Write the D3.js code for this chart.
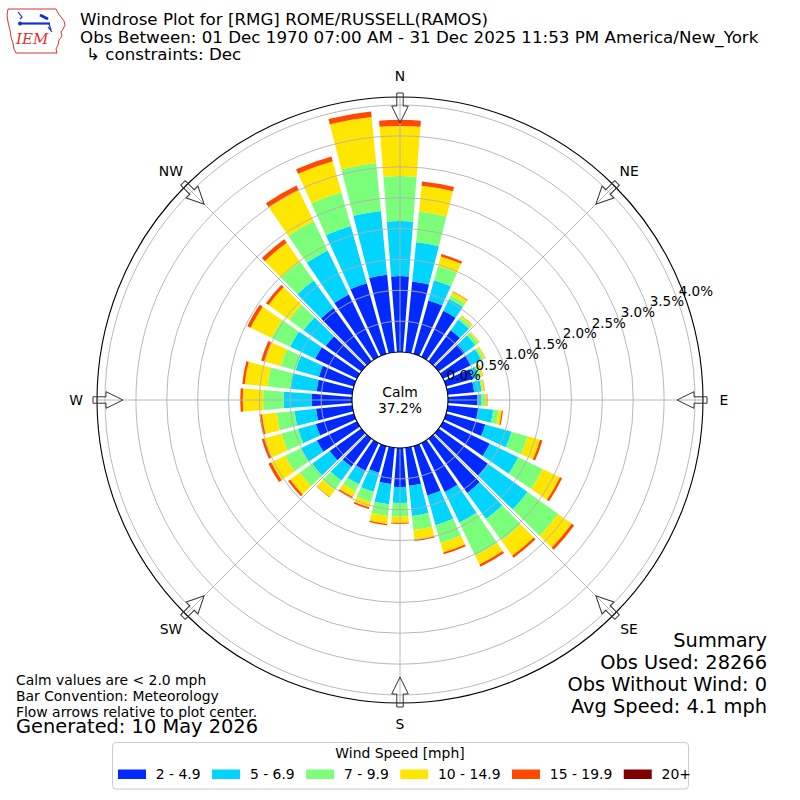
<!DOCTYPE html>
<html>
<head>
<meta charset="utf-8">
<script src="https://cdn.jsdelivr.net/npm/d3@7/dist/d3.min.js"></script>
<style>
  html, body { margin: 0; padding: 0; background: #fff; }
  svg { display: block; }
  text { font-family: "DejaVu Sans", sans-serif; fill: #000; }
</style>
</head>
<body>
<svg id="chart" width="800" height="800"></svg>
<script>
// ---------------- DATA ----------------
const directions = [0,10,20,30,40,50,60,70,80,90,100,110,120,130,140,150,160,170,
                    180,190,200,210,220,230,240,250,260,270,280,290,300,310,320,330,340,350];
const speedBins = ["2 - 4.9", "5 - 6.9", "7 - 9.9", "10 - 14.9", "15 - 19.9", "20+"];
// frequency (%) per direction for each speed bin
const speed2to5   = [1.23,1.15,0.90,0.83,0.62,0.52,0.51,0.45,0.43,0.48,0.50,0.66,0.84,0.98,1.08,0.88,0.83,0.62,
                     0.63,0.59,0.45,0.51,0.56,0.63,0.72,0.64,0.59,0.65,0.58,0.59,0.75,0.71,1.06,1.12,1.19,1.26];
const speed5to7   = [0.89,0.64,0.34,0.21,0.21,0.21,0.18,0.10,0.12,0.06,0.24,0.44,0.51,0.79,0.52,0.55,0.50,0.49,
                     0.26,0.33,0.32,0.23,0.28,0.35,0.29,0.30,0.35,0.46,0.43,0.39,0.45,0.44,0.55,0.79,0.96,1.04];
const speed7to10  = [0.73,0.50,0.24,0.07,0.05,0.06,0.04,0.04,0.02,0.06,0.09,0.27,0.44,0.61,0.43,0.59,0.30,0.23,
                     0.22,0.19,0.17,0.13,0.18,0.25,0.28,0.28,0.29,0.33,0.37,0.25,0.33,0.29,0.38,0.53,0.57,0.78];
const speed10to15 = [0.81,0.42,0.16,0.06,0.03,0.02,0.03,0.03,0.03,0.03,0.05,0.21,0.31,0.27,0.30,0.16,0.16,0.16,
                     0.10,0.13,0.09,0.10,0.14,0.19,0.25,0.29,0.24,0.33,0.37,0.28,0.38,0.41,0.37,0.56,0.52,0.75];
const speed15to20 = [0.10,0.07,0.04,0.01,0.005,0.005,0.005,0.005,0.005,0.01,0.02,0.04,0.04,0.05,0.04,0.04,0.03,0.02,
                     0.02,0.02,0.03,0.02,0.01,0.04,0.05,0.04,0.04,0.04,0.04,0.05,0.06,0.05,0.07,0.08,0.08,0.09];
const speed20plus = [0,0,0,0,0,0,0,0,0,0,0,0,0,0,0,0,0,0,
                     0,0,0,0,0,0,0,0,0,0,0,0,0,0,0,0,0,0];
const radialTicks = [0.0,0.5,1.0,1.5,2.0,2.5,3.0,3.5,4.0];
const compassLabels = ["N","NE","E","SE","S","SW","W","NW"];
const compassAngles = [0,45,90,135,180,225,270,315];
const calmPct = "37.2%";
const titleLines = ["Windrose Plot for [RMG] ROME/RUSSELL(RAMOS)",
                    "Obs Between: 01 Dec 1970 07:00 AM - 31 Dec 2025 11:53 PM America/New_York",
                    "\u21b3 constraints: Dec"];
const footLines = ["Calm values are < 2.0 mph", "Bar Convention: Meteorology", "Flow arrows relative to plot center."];
const generated = "Generated: 10 May 2026";
const summaryLines = ["Summary", "Obs Used: 28266", "Obs Without Wind: 0", "Avg Speed: 4.1 mph"];

// ---------------- SETUP ----------------
const svg = d3.select("#chart");
const cx = 400, cy = 400;
const calmR = 48, outerR = 303;
const colors = ["#002aff", "#00d4ff", "#7bff7b", "#ffe600", "#ff4800", "#800000"];
const rScale = d3.scaleLinear().domain([0, 4.13]).range([calmR, outerR]);
const deg = Math.PI / 180;

const series = [speed2to5, speed5to7, speed7to10, speed10to15, speed15to20, speed20plus];
const table = directions.map((d, i) => {
  const o = { dir: d };
  speedBins.forEach((b, j) => o[b] = series[j][i]);
  return o;
});
const stacked = d3.stack().keys(speedBins)(table);

const g = svg.append("g").attr("transform", `translate(${cx},${cy})`);

// bars
const halfW = 4.4 * deg;
const arc = d3.arc()
  .innerRadius(d => rScale(d[0]))
  .outerRadius(d => rScale(d[1]))
  .startAngle(d => d.data.dir * deg - halfW)
  .endAngle(d => d.data.dir * deg + halfW)
  .padRadius(100)
  .padAngle(0.012);

stacked.forEach((layer, j) => {
  g.append("g").selectAll("path")
    .data(layer.filter(d => d[1] - d[0] > 0))
    .join("path")
    .attr("d", arc)
    .attr("fill", colors[j]);
});

// grid circles
g.append("g").selectAll("circle")
  .data(radialTicks.filter(t => t > 0))
  .join("circle")
  .attr("r", d => rScale(d))
  .attr("fill", "none")
  .attr("stroke", "#b0b0b0")
  .attr("stroke-width", 0.9);

// radial grid lines
g.append("g").selectAll("line")
  .data(compassAngles)
  .join("line")
  .attr("x1", 0).attr("y1", 0)
  .attr("x2", d => outerR * Math.sin(d * deg))
  .attr("y2", d => -outerR * Math.cos(d * deg))
  .attr("stroke", "#b0b0b0")
  .attr("stroke-width", 0.9);

// outer circle
g.append("circle").attr("r", outerR).attr("fill", "none").attr("stroke", "#000").attr("stroke-width", 1.1);

// calm circle
g.append("circle").attr("r", calmR).attr("fill", "#fff").attr("stroke", "#000").attr("stroke-width", 1.1);
g.append("text").attr("x", 0).attr("y", -8).attr("text-anchor", "middle")
  .attr("dominant-baseline", "central").style("font-size", "13.9px").text("Calm");
g.append("text").attr("x", 0).attr("y", 8).attr("text-anchor", "middle")
  .attr("dominant-baseline", "central").style("font-size", "13.9px").text(calmPct);

// arrows
g.append("g").selectAll("path")
  .data(compassAngles)
  .join("path")
  .attr("transform", d => `rotate(${d})`)
  .attr("d", "M-3.2,-307 L-3.2,-294 L-8.3,-294 L0,-277 L8.3,-294 L3.2,-294 L3.2,-307 Z")
  .attr("fill", "none")
  .attr("stroke", "#333")
  .attr("stroke-width", 1);

// compass labels
g.append("g").selectAll("text")
  .data(compassAngles)
  .join("text")
  .attr("x", d => 324 * Math.sin(d * deg))
  .attr("y", d => -324 * Math.cos(d * deg))
  .attr("text-anchor", "middle")
  .attr("dominant-baseline", "central")
  .style("font-size", "13.9px")
  .text((d, i) => compassLabels[i]);

// radial tick labels
const la = 20 * deg;
g.append("g").selectAll("text")
  .data(radialTicks)
  .join("text")
  .attr("x", d => rScale(d) * Math.cos(la) + 1.5)
  .attr("y", d => -rScale(d) * Math.sin(la) - 3.3)
  .attr("text-anchor", "start")
  .style("font-size", "13.5px")
  .text(d => d.toFixed(1) + "%");

// ---------------- TITLE ----------------
const titleY = [25, 43, 60];
titleLines.forEach((t, i) => {
  svg.append("text").attr("x", i === 2 ? 86 : 80).attr("y", titleY[i])
    .style("font-size", "16.7px").text(t);
});

// logo
const logo = svg.append("g");
logo.append("path")
  .attr("d", "M8,9 L56,9 L58,13 L61,17 L64,21 L65,25 L63,29 L61,32 L62,36 L59,40 L58,45 L56,49 L57,53 L16,53 L14,49 L13,43 L11,37 L10,30 L8,22 L7,15 Z")
  .attr("fill", "#fff").attr("stroke", "#d33").attr("stroke-width", 1);
logo.append("line").attr("x1", 21).attr("y1", 23.5).attr("x2", 50).attr("y2", 23.5)
  .attr("stroke", "#1133cc").attr("stroke-width", 2.2);
logo.append("circle").attr("cx", 20).attr("cy", 23.5).attr("r", 2).attr("fill", "#1133cc");
logo.append("path").attr("d", "M40,15 L48,19").attr("stroke", "#1133cc").attr("stroke-width", 3);
logo.append("path").attr("d", "M18,12 L22,17 L20,19").attr("stroke", "#1133cc").attr("stroke-width", 1.2).attr("fill", "none");
logo.append("path").attr("d", "M49,24 L51,30 M48,27 L52,32").attr("stroke", "#1133cc").attr("stroke-width", 1.2).attr("fill", "none");
logo.append("text").attr("x", 16).attr("y", 44)
  .style("font-family", "'DejaVu Serif', serif").style("font-style", "italic")
  .style("font-size", "15px").style("fill", "#d33").text("IEM");

// ---------------- FOOTNOTES ----------------
const footY = [685, 701, 717];
footLines.forEach((t, i) => {
  svg.append("text").attr("x", 16).attr("y", footY[i]).style("font-size", "13.9px").text(t);
});
svg.append("text").attr("x", 16).attr("y", 733).style("font-size", "19.4px").text(generated);

const sumY = [647, 669, 691, 713];
summaryLines.forEach((t, i) => {
  svg.append("text").attr("x", 767).attr("y", sumY[i]).attr("text-anchor", "end")
    .style("font-size", "19.4px").text(t);
});

// ---------------- LEGEND ----------------
const leg = svg.append("g");
leg.append("rect").attr("x", 112.5).attr("y", 742.5).attr("width", 576).attr("height", 46.5)
  .attr("rx", 3.5).attr("fill", "#fff").attr("stroke", "#cccccc").attr("stroke-width", 1);
leg.append("text").attr("x", 400).attr("y", 758).attr("text-anchor", "middle")
  .style("font-size", "13.9px").text("Wind Speed [mph]");
let lx = 118;
speedBins.forEach((b, j) => {
  leg.append("rect").attr("x", lx).attr("y", 769.5).attr("width", 28).attr("height", 9.5).attr("fill", colors[j]);
  const t = leg.append("text").attr("x", lx + 37.8).attr("y", 779).style("font-size", "13.9px").text(b);
  lx = lx + 37.8 + t.node().getComputedTextLength() + 11.5;
});
</script>
</body>
</html>
